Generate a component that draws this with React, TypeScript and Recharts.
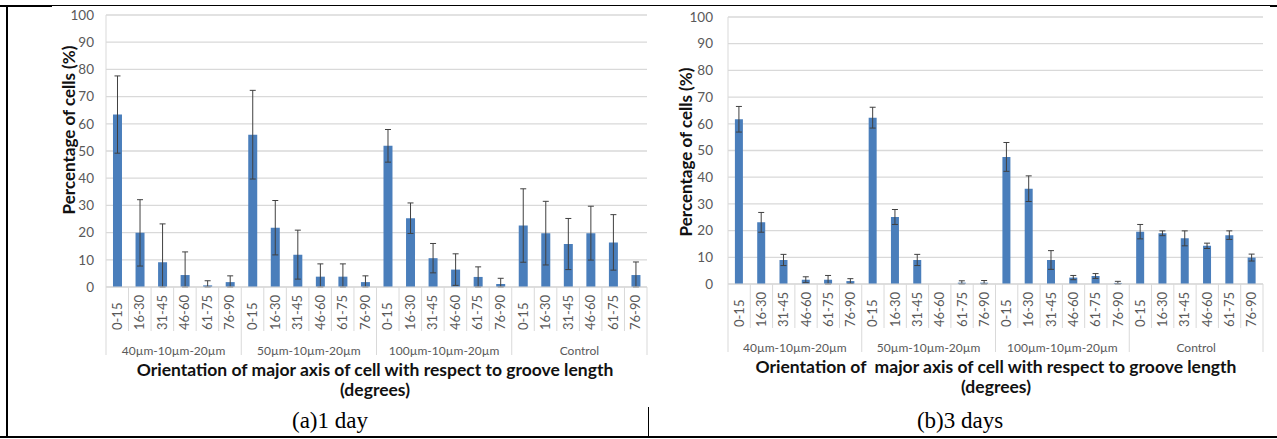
import React from 'react';
import { BarChart, Bar, XAxis, YAxis, CartesianGrid, ErrorBar } from 'recharts';

const angleBins = ['0-15', '16-30', '31-45', '46-60', '61-75', '76-90'];
const grooveGroups = ['40µm-10µm-20µm', '50µm-10µm-20µm', '100µm-10µm-20µm', 'Control'];
const yTicks = [0, 10, 20, 30, 40, 50, 60, 70, 80, 90, 100];

// 1 day: mean % of cells and error per angle bin, group by group
const day1Values = [63.4, 19.9, 9.1, 4.4, 0.6, 1.8, 56.0, 21.8, 11.9, 3.8, 3.8, 1.8, 51.9, 25.3, 10.6, 6.4, 3.7, 1.1, 22.6, 19.8, 15.8, 19.8, 16.4, 4.4];
const day1Errors = [14.2, 12.2, 14.1, 8.5, 1.7, 2.3, 16.3, 10.0, 9.0, 4.7, 4.7, 2.3, 6.0, 5.6, 5.4, 5.8, 3.7, 2.1, 13.5, 11.7, 9.4, 9.9, 10.2, 4.8];

// 3 days
const day3Values = [61.7, 23.1, 9.0, 1.6, 1.6, 1.1, 62.3, 25.1, 9.0, 0, 0.5, 0.5, 47.6, 35.7, 9.0, 2.4, 3.0, 0.4, 19.6, 19.0, 17.1, 14.3, 18.3, 9.9];
const day3Errors = [4.8, 3.7, 2.1, 1.1, 1.6, 0.9, 3.9, 2.8, 2.1, 0, 0.7, 0.8, 5.4, 4.8, 3.5, 0.8, 0.9, 0.6, 2.7, 0.9, 2.8, 1.0, 1.6, 1.3];

interface Row {
  key: string;
  bin: string;
  group: string;
  value: number;
  err: [number, number];
}

function buildRows(values: number[], errors: number[]): Row[] {
  const rows: Row[] = [];
  grooveGroups.forEach((g, gi) => {
    angleBins.forEach((b, bi) => {
      const i = gi * angleBins.length + bi;
      // lower whisker stops at the axis, like the original
      rows.push({ key: `${g}|${b}`, bin: b, group: g, value: values[i], err: [Math.min(errors[i], values[i]), errors[i]] });
    });
  });
  return rows;
}

const day1Rows = buildRows(day1Values, day1Errors);
const day3Rows = buildRows(day3Values, day3Errors);

const FONT = 'Lato, "Open Sans", sans-serif';
const GRID = '#d9d9d9';
const LABEL = '#595959';

// two-level category axis: rotated bin label + separators + group name
const CategoryTick = (props: any) => {
  const { x, y, payload, index } = props;
  const n = angleBins.length;
  const half = payload && payload.offset ? payload.offset : 11;
  const idx = typeof index === 'number' ? index : payload.index;
  const row = idx % n;
  const group = grooveGroups[Math.floor(idx / n)];
  const bin = String(payload.value).split('|')[1];
  const last = idx === angleBins.length * grooveGroups.length - 1;
  return (
    <g>
      <line x1={x - half} x2={x - half} y1={y} y2={y + (row === 0 ? 68 : 44)} stroke={GRID} />
      {last && <line x1={x + half} x2={x + half} y1={y} y2={y + 68} stroke={GRID} />}
      <text transform={`translate(${x + 4.5},${y + 43}) rotate(-90)`} textAnchor="start" fontSize={13} fill={LABEL}>
        {bin}
      </text>
      {row === 2 && (
        <text x={x + half} y={y + 68} textAnchor="middle" fontSize={12} fill={LABEL}>
          {group}
        </text>
      )}
    </g>
  );
};

interface PanelProps {
  rows: Row[];
  left: number;
  width: number;
  top: number;
  axisWidth: number;
  rightMargin: number;
  xAxisHeight: number;
  tickMargin: number;
}

const Panel: React.FC<PanelProps> = ({ rows, left, width, top, axisWidth, rightMargin, xAxisHeight, tickMargin }) => (
  <div style={{ position: 'absolute', left, top: 0 }}>
    <BarChart width={width} height={380} data={rows} margin={{ top, right: rightMargin, left: 0, bottom: 0 }} barCategoryGap="31%">
      <CartesianGrid vertical={false} stroke={GRID} strokeWidth={1.3} />
      <XAxis
        dataKey="key"
        interval={0}
        height={xAxisHeight}
        tickSize={0}
        tickMargin={0}
        axisLine={{ stroke: GRID }}
        tickLine={false}
        tick={<CategoryTick />}
      />
      <YAxis
        domain={[0, 100]}
        allowDataOverflow
        ticks={yTicks}
        width={axisWidth}
        axisLine={{ stroke: GRID }}
        tickLine={false}
        tickMargin={tickMargin}
        tick={{ fontSize: 13.5, fill: LABEL }}
      />
      <Bar dataKey="value" fill="#4A7EBB" isAnimationActive={false}>
        <ErrorBar dataKey="err" width={3} stroke="#404040" strokeWidth={1} direction="y" isAnimationActive={false} />
      </Bar>
    </BarChart>
  </div>
);

const boldText: React.CSSProperties = { position: 'absolute', fontWeight: 700, fontSize: 17.5, color: '#111', whiteSpace: 'nowrap', fontFamily: FONT };
const caption: React.CSSProperties = { position: 'absolute', fontFamily: '"Liberation Serif", "Times New Roman", serif', fontSize: 23, color: '#000', whiteSpace: 'nowrap' };

export default function App() {
  return (
    <div style={{ position: 'absolute', left: 0, top: 0, width: 1277, height: 439, background: '#fff', fontFamily: FONT, overflow: 'hidden' }}>
      {/* table borders */}
      <div style={{ position: 'absolute', left: 0, top: 5, width: 1277, height: 1, background: '#000' }} />
      <div style={{ position: 'absolute', left: 0, top: 5, width: 52, height: 2, background: '#000' }} />
      <div style={{ position: 'absolute', left: 1270, top: 5, width: 7, height: 2, background: '#000' }} />
      <div style={{ position: 'absolute', left: 6, top: 5, width: 2, height: 433, background: '#000' }} />
      <div style={{ position: 'absolute', left: 0, top: 436, width: 1277, height: 2, background: '#000' }} />
      <div style={{ position: 'absolute', left: 648, top: 407, width: 1, height: 30, background: '#000' }} />

      <Panel rows={day1Rows} left={0} width={660} top={15} axisWidth={106} rightMargin={13} xAxisHeight={93} tickMargin={6} />
      <Panel rows={day3Rows} left={660} width={617} top={17} axisWidth={68} rightMargin={14} xAxisHeight={96} tickMargin={9} />

      {/* y axis titles */}
      <div style={{ ...boldText, fontSize: 17, left: 68, top: 130, transform: 'translate(-50%,-50%) rotate(-90deg)' }}>Percentage of cells (%)</div>
      <div style={{ ...boldText, fontSize: 17, left: 685, top: 152, transform: 'translate(-50%,-50%) rotate(-90deg)' }}>Percentage of cells (%)</div>

      {/* x axis titles */}
      <div style={{ ...boldText, left: 375, top: 369, transform: 'translate(-50%,-50%)' }}>Orientation of major axis of cell with respect to groove length</div>
      <div style={{ ...boldText, left: 375, top: 389, transform: 'translate(-50%,-50%)' }}>(degrees)</div>
      <div style={{ ...boldText, left: 996, top: 366, transform: 'translate(-50%,-50%)', whiteSpace: 'pre' }}>Orientation of  major axis of cell with respect to groove length</div>
      <div style={{ ...boldText, left: 996, top: 386, transform: 'translate(-50%,-50%)' }}>(degrees)</div>

      {/* captions */}
      <div style={{ ...caption, left: 330, top: 421, transform: 'translate(-50%,-50%)' }}>(a)1 day</div>
      <div style={{ ...caption, left: 960, top: 421, transform: 'translate(-50%,-50%)' }}>(b)3 days</div>
    </div>
  );
}
